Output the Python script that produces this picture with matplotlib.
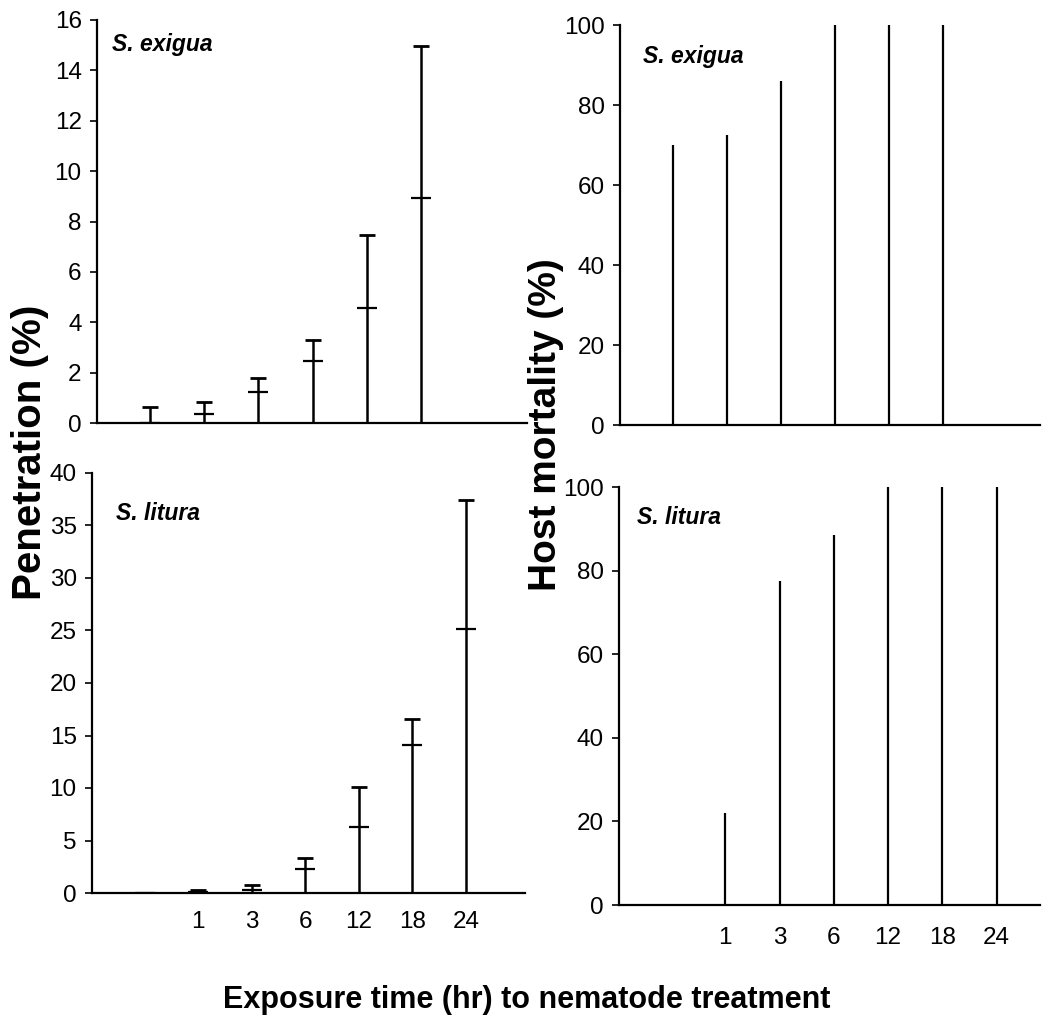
import matplotlib
matplotlib.use("Agg")
import matplotlib.pyplot as plt
import numpy as np

plt.rcParams['font.family'] = ['Liberation Sans', 'DejaVu Sans']

# exposure time labels (first slot is the untreated control, no label)
time_labels = ["", "1", "3", "6", "12", "18", "24"]

# penetration (%): mean and upper error, S. exigua (upper panel shows 6 slots)
exigua_pen_mean = [0.0, 0.35, 1.25, 2.45, 4.55, 8.95]
exigua_pen_se = [0.62, 0.5, 0.53, 0.85, 2.9, 6.0]
# S. litura
litura_pen_mean = [0.0, 0.1, 0.3, 2.3, 6.3, 14.1, 25.1]
litura_pen_se = [0.0, 0.15, 0.5, 1.0, 3.8, 2.5, 12.3]

# host mortality (%)
exigua_mort = [70, 72.5, 86, 100, 100, 100]
litura_mort = [0, 22, 77.5, 88.5, 100, 100, 100]

W, H = 1056, 1030
fig = plt.figure(figsize=(W / 100, H / 100), dpi=100)


def px_axes(left, right, top, bottom):
    return fig.add_axes([left / W, 1 - bottom / H, (right - left) / W, (bottom - top) / H])


def style(ax, ymax, ystep, xlim):
    ax.set_ylim(0, ymax)
    ax.set_yticks(np.arange(0, ymax + 0.1, ystep))
    ax.set_xlim(*xlim)
    for s in ['top', 'right']:
        ax.spines[s].set_visible(False)
    for s in ['left', 'bottom']:
        ax.spines[s].set_linewidth(1.6)
    ax.tick_params(axis='y', direction='out', length=5, width=1.2, labelsize=17.5, pad=6)
    ax.tick_params(axis='x', length=0, labelsize=17.5, pad=13)


def penetration(ax, mean, se):
    x = np.arange(len(mean))
    mean = np.array(mean)
    upper = mean + np.array(se)
    ax.vlines(x, 0, upper, color='black', lw=1.8)
    ax.plot(x, mean, '_', color='black', ms=15, mew=1.6)
    ax.plot(x, upper, '_', color='black', ms=12, mew=2.0)


def mortality(ax, vals):
    x = np.arange(len(vals))
    ax.vlines(x, 0, vals, color='black', lw=1.6)


ax1 = px_axes(97, 527, 20, 423)
penetration(ax1, exigua_pen_mean, exigua_pen_se)
style(ax1, 16, 2, (-0.98, 6.96))
ax1.set_xticks([])

ax2 = px_axes(620, 1040, 25, 425)
mortality(ax2, exigua_mort)
style(ax2, 100, 20, (-0.98, 6.8))
ax2.set_xticks([])

ax3 = px_axes(92, 525, 473, 893)
penetration(ax3, litura_pen_mean, litura_pen_se)
style(ax3, 40, 5, (-0.98, 7.1))
ax3.set_xticks(np.arange(len(time_labels)))
ax3.set_xticklabels(time_labels)

ax4 = px_axes(619, 1040, 487, 905)
mortality(ax4, litura_mort)
style(ax4, 100, 20, (-0.96, 6.8))
ax4.set_xticks(np.arange(len(time_labels)))
ax4.set_xticklabels(time_labels)
ax4.tick_params(axis='x', pad=16)

lab = dict(fontsize=16.5, fontweight='bold', fontstyle='italic', va='center', ha='left')
fig.text(112 / W, 1 - 45 / H, "S. exigua", **lab)
fig.text(643 / W, 1 - 56 / H, "S. exigua", **lab)
fig.text(116 / W, 1 - 514 / H, "S. litura", **lab)
fig.text(637 / W, 1 - 517 / H, "S. litura", **lab)

fig.text(30 / W, 1 - 452 / H, "Penetration (%)", rotation=90, fontsize=29,
         fontweight='bold', ha='center', va='center')
fig.text(546 / W, 1 - 425 / H, "Host mortality (%)", rotation=90, fontsize=28,
         fontweight='bold', ha='center', va='center')
fig.text(527 / W, 1 - 1000 / H, "Exposure time (hr) to nematode treatment",
         fontsize=22, fontweight='bold', ha='center', va='center')

fig.savefig("out.png", dpi=100)
